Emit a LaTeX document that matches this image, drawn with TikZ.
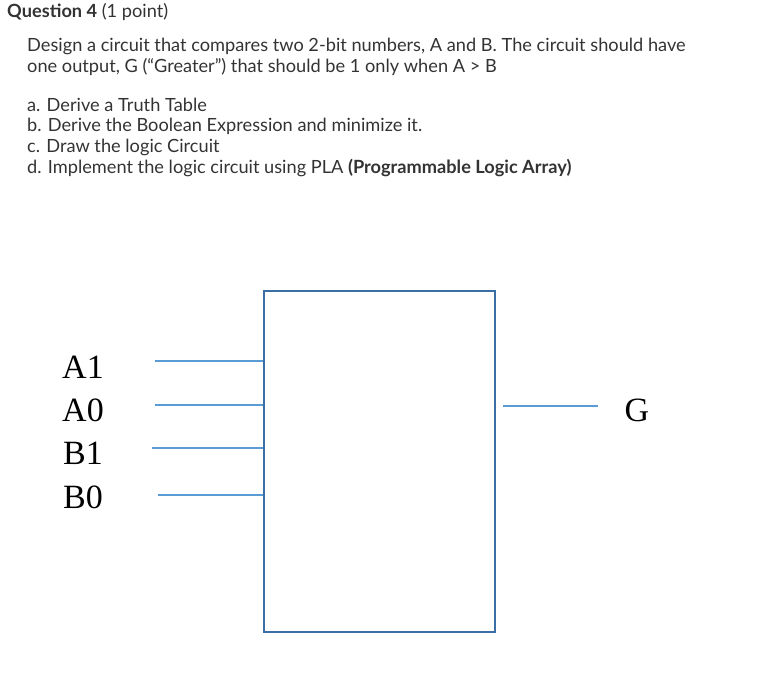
\documentclass[tikz,border=0pt]{standalone}
\usepackage{fontspec}
\setmainfont{Lato}
\newfontfamily\serifl{Liberation Serif}
\begin{document}
\begin{tikzpicture}[x=1pt,y=-1pt,
  txt/.style={anchor=west,inner sep=0,font=\fontsize{18.2}{21}\selectfont,text=black!80},
  lbl/.style={inner sep=0,font=\serifl\fontsize{34}{36}\selectfont},
  wire/.style={line width=1.3pt,color={rgb,255:red,91;green,155;blue,213}}]
\useasboundingbox (0,0) rectangle (760,687);
\node[txt] (q) at (7,12) {\textbf{Question 4} (1 point)};
\node[txt] (l1) at (27,46) {Design a circuit that compares two 2-bit numbers, A and B. The circuit should have};
\node[txt] (l2) at (27,67) {one output, G (“Greater”) that should be 1 only when A > B};
\node[txt] (a) at (27,105) {a. Derive a Truth Table};
\node[txt] (b) at (27,126) {b. Derive the Boolean Expression and minimize it.};
\node[txt] (c) at (27,147) {c. Draw the logic Circuit};
\node[txt] (d) at (27,168) {d. Implement the logic circuit using PLA \textbf{(Programmable Logic Array)}};
\node[draw={rgb,255:red,58;green,110;blue,165},line width=2pt,minimum width=231pt,minimum height=341pt,inner sep=0] (box) at (379.5,461.5) {};
\node[lbl] (A1) at (83,367) {A1};
\node[lbl] (A0) at (83,410) {A0};
\node[lbl] (B1) at (83,453) {B1};
\node[lbl] (B0) at (83,497) {B0};
\node[lbl] (G) at (637,410) {G};
\coordinate (s1) at (155,361); \coordinate (s2) at (155,405);
\coordinate (s3) at (152,448); \coordinate (s4) at (158,495);
\coordinate (gs) at (503,406); \coordinate (ge) at (598,406);
\draw[wire] (s1) -- (s1 -| box.west);
\draw[wire] (s2) -- (s2 -| box.west);
\draw[wire] (s3) -- (s3 -| box.west);
\draw[wire] (s4) -- (s4 -| box.west);
\draw[wire] (gs) -- (ge);
\end{tikzpicture}
\end{document}
